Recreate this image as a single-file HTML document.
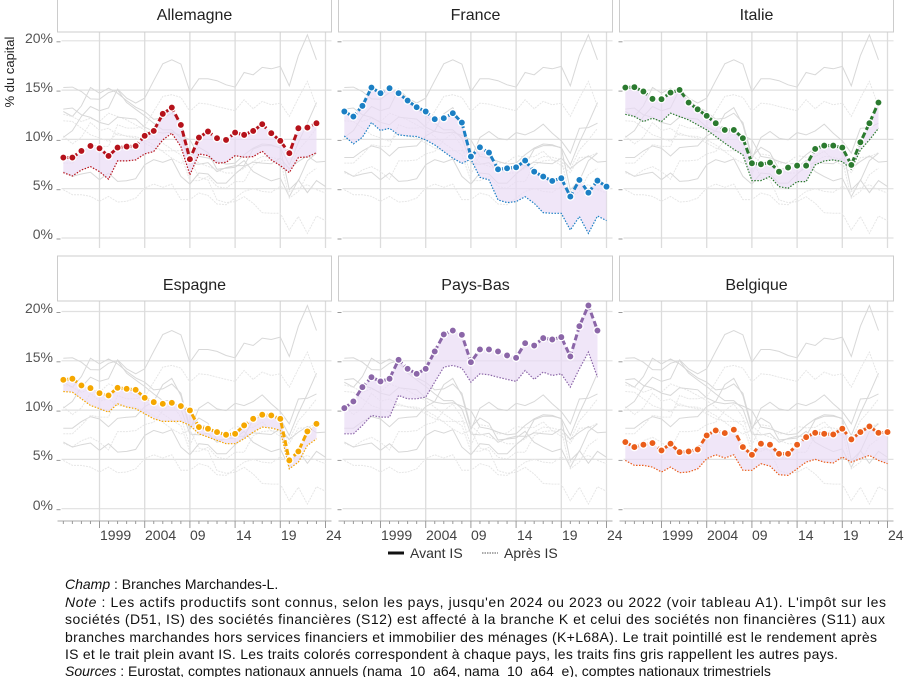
<!DOCTYPE html>
<html><head><meta charset="utf-8"><style>
html,body{margin:0;padding:0;background:#fff;}
svg{display:block;font-family:"Liberation Sans",sans-serif;}
</style></head><body>
<svg id="s" width="904" height="677" viewBox="0 0 904 677" xmlns="http://www.w3.org/2000/svg">
<g id="grid"></g>
<g id="gray"></g>
<g id="main"></g>
<g id="hdr">
<rect x="57.5" y="-14" width="274" height="46" fill="#fff" stroke="#ccc"/>
<rect x="338.5" y="-14" width="274" height="46" fill="#fff" stroke="#ccc"/>
<rect x="619.5" y="-14" width="274" height="46" fill="#fff" stroke="#ccc"/>
<rect x="57.5" y="256" width="274" height="45" fill="#fff" stroke="#ccc"/>
<rect x="338.5" y="256" width="274" height="45" fill="#fff" stroke="#ccc"/>
<rect x="619.5" y="256" width="274" height="45" fill="#fff" stroke="#ccc"/>
</g>
<g font-size="16" fill="#222" text-anchor="middle">
<text x="194.5" y="20">Allemagne</text>
<text x="475.5" y="20">France</text>
<text x="756.5" y="20">Italie</text>
<text x="194.5" y="290">Espagne</text>
<text x="475.5" y="290">Pays-Bas</text>
<text x="756.5" y="290">Belgique</text>
</g>
<g font-size="14" fill="#555" text-anchor="end">
<text x="53" y="43">20%</text><text x="53" y="92">15%</text><text x="53" y="141">10%</text><text x="53" y="190">5%</text><text x="53" y="239">0%</text>
<text x="53" y="313">20%</text><text x="53" y="362">15%</text><text x="53" y="411">10%</text><text x="53" y="460">5%</text><text x="53" y="510">0%</text>
</g>
<text transform="translate(14,72) rotate(-90)" font-size="13" fill="#222" text-anchor="middle">% du capital</text>
<g font-size="14" fill="#444">
<text x="100" y="540">1999</text><text x="145" y="540">2004</text><text x="190" y="540">09</text><text x="236" y="540">14</text><text x="281" y="540">19</text><text x="326" y="540">24</text>
<text x="381" y="540">1999</text><text x="426" y="540">2004</text><text x="471" y="540">09</text><text x="517" y="540">14</text><text x="562" y="540">19</text><text x="607" y="540">24</text>
<text x="662" y="540">1999</text><text x="707" y="540">2004</text><text x="752" y="540">09</text><text x="798" y="540">14</text><text x="843" y="540">19</text><text x="888" y="540">24</text>
</g>
<line x1="388" y1="553" x2="404" y2="553" stroke="#111" stroke-width="3"/>
<text x="410" y="558" font-size="14" fill="#333">Avant IS</text>
<line x1="482" y1="553" x2="498" y2="553" stroke="#555" stroke-width="1" stroke-dasharray="1.5,1"/>
<text x="504" y="558" font-size="14" fill="#333">Après IS</text>
<g font-size="14" fill="#111">
<text x="65" y="589"><tspan font-style="italic">Champ</tspan> : Branches Marchandes-L.</text>
<text x="65" y="607" textLength="821" lengthAdjust="spacing"><tspan font-style="italic">Note</tspan> : Les actifs productifs sont connus, selon les pays, jusqu'en 2024 ou 2023 ou 2022 (voir tableau A1). L'impôt sur les</text>
<text x="65" y="624" textLength="820" lengthAdjust="spacing">sociétés (D51, IS) des sociétés financières (S12) est affecté à la branche K et celui des sociétés non financières (S11) aux</text>
<text x="65" y="642" textLength="812" lengthAdjust="spacing">branches marchandes hors services financiers et immobilier des ménages (K+L68A). Le trait pointillé est le rendement après</text>
<text x="65" y="659" textLength="773" lengthAdjust="spacing">IS et le trait plein avant IS. Les traits colorés correspondent à chaque pays, les traits fins gris rappellent les autres pays.</text>
<text x="65" y="676"><tspan font-style="italic">Sources</tspan> : Eurostat, comptes nationaux annuels (nama_10_a64, nama_10_a64_e), comptes nationaux trimestriels</text>
</g>
</svg>
<script>
var NS="http://www.w3.org/2000/svg";
var C=[
{c:"#b5121b",a:[8.16,8.16,8.83,9.34,9.10,8.32,9.17,9.27,9.34,10.36,10.86,12.59,13.23,11.47,7.99,10.19,10.80,10.12,9.95,10.69,10.46,10.86,11.54,10.63,9.85,8.60,11.13,11.20,11.64],
 p:[6.63,6.29,6.90,7.24,6.73,5.96,7.82,7.82,7.92,8.53,8.77,9.95,10.63,9.27,6.40,8.53,8.36,7.58,7.68,8.36,8.19,8.26,8.80,7.92,7.34,6.63,8.16,8.22,8.66]},
{c:"#1b7fc4",a:[12.83,12.32,13.40,15.26,14.69,15.19,14.69,13.94,13.27,12.83,12.05,12.15,12.66,11.71,8.26,9.20,8.66,6.97,7.07,7.17,7.85,6.73,6.23,5.79,6.06,4.20,5.89,4.60,5.82,5.21],
 p:[10.36,9.54,10.22,11.71,10.90,11.13,10.46,10.36,10.29,9.95,9.44,8.76,8.09,7.58,7.99,6.16,5.89,3.86,3.59,3.69,4.19,3.52,2.57,2.50,2.50,0.81,2.17,0.47,2.23,1.76]},
{c:"#2b7a2f",a:[15.26,15.30,14.86,14.11,14.08,14.75,15.02,13.74,13.05,12.39,11.64,10.96,10.96,10.12,7.58,7.48,7.65,6.73,7.14,7.34,7.34,9.03,9.37,9.37,9.17,7.41,9.71,11.64,13.74],
 p:[12.55,12.32,11.81,12.15,11.81,12.66,12.32,11.98,11.47,10.96,10.29,9.61,9.00,8.43,5.82,5.82,6.23,5.21,5.04,5.72,5.72,7.41,7.82,7.92,7.75,6.97,8.93,9.95,11.13]},
{c:"#f5a700",a:[13.07,13.18,12.50,12.23,11.72,11.49,12.26,12.16,12.06,11.25,10.81,10.64,10.74,10.41,9.97,8.28,8.11,7.77,7.50,7.60,8.45,9.12,9.53,9.46,9.12,4.90,5.81,7.84,8.61],
 p:[11.89,11.82,11.15,10.47,10.14,9.80,10.64,10.30,10.14,9.63,9.12,8.85,8.85,8.85,8.45,7.60,7.26,6.93,6.59,6.59,7.09,7.77,8.28,8.18,7.94,4.05,4.73,6.42,7.09]},
{c:"#8b66a8",a:[10.20,10.88,12.33,13.34,12.91,13.18,15.10,14.19,13.68,14.19,15.95,17.67,18.07,17.64,14.86,16.15,16.15,15.95,15.54,15.30,16.79,16.55,17.30,17.16,17.40,15.44,18.51,20.61,18.07],
 p:[7.60,7.60,8.45,9.46,9.29,9.29,11.49,11.15,11.15,11.32,12.84,14.36,14.53,14.26,12.84,13.68,13.58,13.34,13.11,12.91,14.02,13.11,13.85,13.51,13.68,12.33,14.19,15.88,13.34]},
{c:"#ea5d1a",a:[6.76,6.25,6.49,6.66,5.91,6.59,5.74,5.81,6.01,7.43,7.94,7.67,8.01,6.25,5.47,6.59,6.49,5.57,5.57,6.49,7.26,7.70,7.60,7.53,8.11,7.03,7.77,8.34,7.70,7.77],
 p:[4.90,4.39,4.39,4.22,3.72,4.22,3.65,3.72,4.05,5.07,5.47,5.14,5.47,3.89,3.89,4.56,4.32,3.45,3.38,4.05,4.73,5.00,4.73,4.63,5.24,4.73,5.07,5.41,4.90,4.56]}
];
var colX=[57.5,338.5,619.5], rowY0=[238,508.7], k=9.86;
function el(t,at,par){var e=document.createElementNS(NS,t);for(var q in at)e.setAttribute(q,at[q]);par.appendChild(e);return e;}
var G=document.getElementById("grid"),GR=document.getElementById("gray"),M=document.getElementById("main");
function pts(arr,cx,y0){return arr.map(function(v,i){return [cx+42+(i-4)*9.04, y0-v*k];});}
function d(P){return P.map(function(p,i){return (i?"L":"M")+p[0].toFixed(1)+","+p[1].toFixed(1);}).join("");}
for(var i=0;i<6;i++){
 var cx=colX[i%3], y0=rowY0[Math.floor(i/3)];
 for(var g=0;g<=4;g++){var yy=y0-g*5*k;el("line",{x1:cx+4,x2:cx+274,y1:yy,y2:yy,stroke:"#e0e0e0","stroke-width":1.2},G);
  el("line",{x1:cx-1,x2:cx+3,y1:yy+1,y2:yy+1,stroke:"#999","stroke-width":1},G);}
 for(var yr=0;yr<6;yr++){var xx=cx+42+yr*5*9.04;el("line",{x1:xx,x2:xx,y1:y0-20*k-10,y2:y0+(i<3?10:12),stroke:"#dcdcdc","stroke-width":1.3},G);}
 if(i>=3){el("line",{x1:cx,x2:cx+274,y1:521,y2:521,stroke:"#aaa","stroke-width":1},G);
  for(var t=0;t<30;t++){var xt=cx+42+(t-4)*9.04;el("line",{x1:xt,x2:xt,y1:521,y2:(t%5==4)?528:524,stroke:"#999","stroke-width":1},G);}}
 for(var j=0;j<6;j++){if(j==i)continue;
  el("path",{d:d(pts(C[j].a,cx,y0)),fill:"none",stroke:"#d8d8d8","stroke-width":1},GR);
  el("path",{d:d(pts(C[j].p,cx,y0)),fill:"none",stroke:"#e6e6e6","stroke-width":1,"stroke-dasharray":"2,1"},GR);}
 var A=pts(C[i].a,cx,y0),P=pts(C[i].p,cx,y0);
 el("path",{d:d(A)+d(P.slice().reverse()).replace("M","L")+"Z",fill:"#e9dcf5","fill-opacity":0.7,stroke:"none"},M);
 el("path",{d:d(P),fill:"none",stroke:C[i].c,"stroke-width":1.2,"stroke-dasharray":"1.5,1.5"},M);
 el("path",{d:d(A),fill:"none",stroke:C[i].c,"stroke-width":3,"stroke-dasharray":"6,3"},M);
 A.forEach(function(p){el("circle",{cx:p[0],cy:p[1],r:3.6,fill:C[i].c,stroke:"#fff","stroke-width":1.3},M);});
}
</script>
</body></html>
